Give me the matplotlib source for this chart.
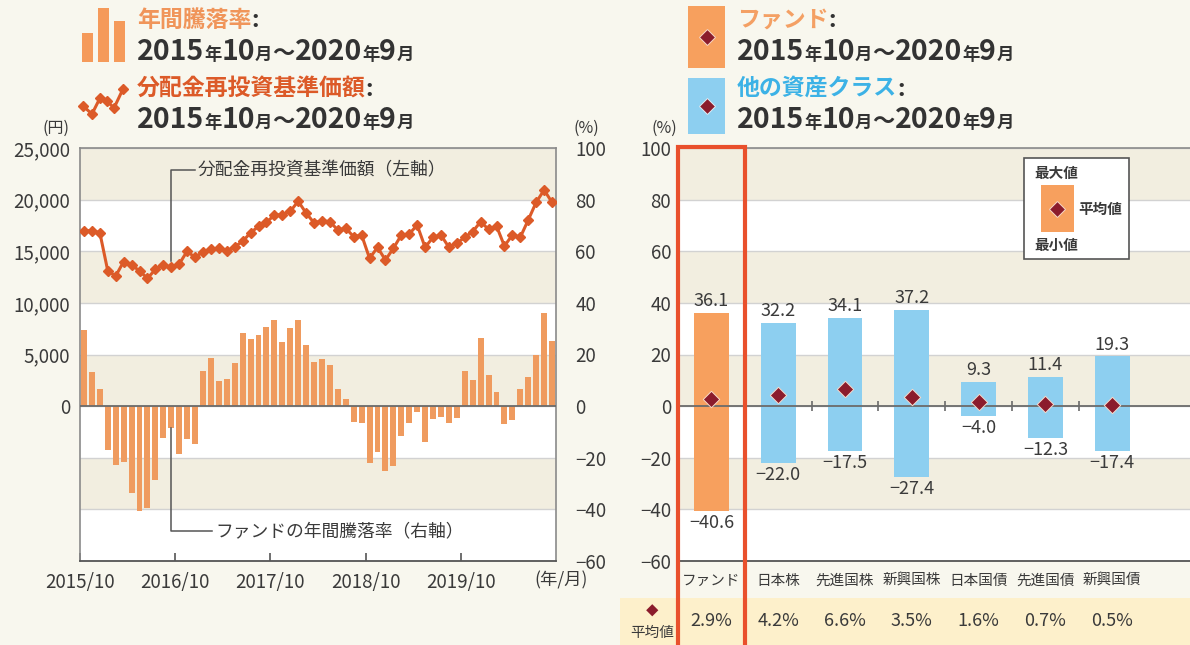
import matplotlib
matplotlib.use('Agg')
import matplotlib.pyplot as plt
from matplotlib.patches import Rectangle
from matplotlib.lines import Line2D
from matplotlib.transforms import blended_transform_factory
import numpy as np

plt.rcParams['font.family'] = ['Noto Sans CJK JP', 'DejaVu Sans']
plt.rcParams['axes.unicode_minus'] = True

# ---------------- data ----------------
x_tick_labels = ["2015/10", "2016/10", "2017/10", "2018/10", "2019/10"]
annual_return = [29.4, 13.3, 6.5, -17.0, -22.8, -21.5, -33.8, -40.6, -39.6, -28.6,
                 -12.5, -8.6, -18.6, -12.9, -14.5, 13.7, 18.5, 9.8, 10.6, 16.9,
                 28.5, 26.1, 27.7, 30.7, 33.3, 24.8, 30.1, 33.3, 23.6, 17.0,
                 18.3, 15.9, 6.5, 2.8, -6.1, -6.7, -22.2, -17.7, -25.3, -23.1,
                 -11.5, -6.7, -2.2, -13.8, -4.8, -4.1, -6.7, -4.5, 13.6, 10.1,
                 26.2, 12.0, 5.3, -7.1, -5.4, 6.5, 11.1, 19.8, 36.1, 25.3]
nav = [16990, 16990, 16800, 13100, 12600, 14000, 13660, 13110, 12370, 13240,
       13660, 13440, 13760, 15000, 14400, 14950, 15220, 15280, 15060, 15440,
       15950, 16800, 17400, 17800, 18500, 18550, 18850, 19850, 18700, 17750,
       17960, 17860, 17060, 17220, 16410, 16570, 14310, 15380, 14150, 15280,
       16570, 16670, 17540, 15380, 16350, 16570, 15380, 15770, 16350, 16900,
       17860, 17120, 17440, 15510, 16570, 16350, 18030, 19740, 20930, 19740]
yen_ticks = [0, 5000, 10000, 15000, 20000, 25000]
yen_labels = ["0", "5,000", "10,000", "15,000", "20,000", "25,000"]
pct_ticks = [-60, -40, -20, 0, 20, 40, 60, 80, 100]

categories = ["ファンド", "日本株", "先進国株", "新興国株", "日本国債", "先進国債", "新興国債"]
max_vals = [36.1, 32.2, 34.1, 37.2, 9.3, 11.4, 19.3]
min_vals = [-40.6, -22.0, -17.5, -27.4, -4.0, -12.3, -17.4]
avg_vals = [2.9, 4.2, 6.6, 3.5, 1.6, 0.7, 0.5]

# ---------------- style ----------------
W, H = 1190, 645
BG = '#f8f7ee'
BEIGE = '#f2eee0'
WHITE = '#ffffff'
GRID = '#d2d2d2'
TXT = '#3a3a3a'
BAR_OR = '#ef9b5f'
FUND_OR = '#f7a05e'
BLUE = '#8dcff0'
LINE_C = '#dc5a28'
DIA = '#8b1c2c'
RED = '#e9502c'
NUM = 13.5

fig = plt.figure(figsize=(W / 100, H / 100), dpi=100)
fig.patch.set_facecolor(BG)


def fx(px):
    return px / W


def fy(py):
    return 1 - py / H


def pminus(s):
    return s.replace('-', '\u2212')


def bands(ax):
    for k, lo in enumerate(range(-60, 100, 20)):
        ax.axhspan(lo, lo + 20, color=(BEIGE if k % 2 == 1 else WHITE), zorder=0, lw=0)
    ax.set_yticks(pct_ticks)
    ax.grid(axis='y', color=GRID, lw=1.0, zorder=1)
    ax.set_axisbelow(True)


# ---------------- left chart ----------------
ax = fig.add_axes([fx(80), fy(561), fx(476), 413 / H])
bands(ax)
xs = np.arange(len(annual_return))
ax.bar(xs, annual_return, width=0.75, color=BAR_OR, zorder=2)
ax.axhline(0, color='#6b6b6b', lw=1.3, zorder=3)
ax.set_ylim(-60, 100)
ax.set_xlim(-0.5, len(annual_return) - 0.5)

ax2 = ax.twinx()
ax2.plot(xs, nav, color=LINE_C, lw=2.2, marker='D', ms=5, mec=LINE_C, zorder=4)
ax2.set_ylim(-15000, 25000)
ax2.yaxis.tick_left()
ax2.set_yticks(yen_ticks)
ax2.set_yticklabels(yen_labels)
ax2.tick_params(axis='y', length=0, pad=7, labelsize=NUM, labelcolor=TXT)
for s in ax2.spines.values():
    s.set_visible(False)

ax.yaxis.tick_right()
ax.set_yticks(pct_ticks)
ax.set_yticklabels([pminus(str(v)) for v in pct_ticks])
ax.tick_params(axis='y', length=0, pad=14, labelsize=NUM, labelcolor=TXT)
ax.set_xticks([-0.5 + 12 * k for k in range(len(x_tick_labels))])
ax.set_xticklabels(x_tick_labels)
ax.tick_params(axis='x', direction='in', length=6, width=1.2, color='#555555',
               pad=8, labelsize=NUM, labelcolor=TXT)
for s in ['left', 'right', 'top']:
    ax.spines[s].set_color('#8a8a8a')
    ax.spines[s].set_linewidth(1.2)
ax.spines['bottom'].set_color('#555555')
ax.spines['bottom'].set_linewidth(1.3)

# annotations (leaders)
fig.canvas.draw()
ann_i = 11
p_line = ax2.transData.transform((ann_i, nav[ann_i]))
p_bar = ax.transData.transform((ann_i, annual_return[ann_i]))
lx = p_line[0]
fig.add_artist(Line2D([lx, lx, 195], [p_line[1] + 6, H - 170, H - 170], transform=None,
                      color='#555555', lw=1.1))
fig.text(fx(198), fy(170), "分配金再投資基準価額（左軸）", fontsize=12.8, color=TXT, va='center', ha='left')
fig.add_artist(Line2D([lx, lx, 212], [p_bar[1], H - 531, H - 531], transform=None,
                      color='#555555', lw=1.1))
fig.text(fx(215), fy(531), "ファンドの年間騰落率（右軸）", fontsize=12.8, color=TXT, va='center', ha='left')

fig.text(fx(56), fy(128), "(円)", fontsize=11.5, color=TXT, ha='center', va='center')
fig.text(fx(586), fy(128), "(%)", fontsize=11.5, color=TXT, ha='center', va='center')
fig.text(fx(561), fy(580), "(年/月)", fontsize=12.5, color=TXT, ha='center', va='center')

# ---------------- right chart ----------------
axr = fig.add_axes([fx(678), fy(561), fx(512), 413 / H])
bands(axr)
cx = np.arange(len(categories))
colors = [FUND_OR] + [BLUE] * (len(categories) - 1)
heights = [mx - mn for mx, mn in zip(max_vals, min_vals)]
axr.bar(cx, heights, bottom=min_vals, width=0.52, color=colors, zorder=2)
axr.axhline(0, color='#6b6b6b', lw=1.3, zorder=3)
axr.vlines(cx[:-1] + 0.5, -1.8, 1.8, color='#6b6b6b', lw=1.2, zorder=3)
axr.scatter(cx, avg_vals, marker='D', s=70, color=DIA, edgecolor='#f6d8c8', lw=0.7, zorder=5)
for i in range(len(categories)):
    axr.annotate(pminus(f"{max_vals[i]:.1f}"), (cx[i], max_vals[i]), xytext=(0, 2),
                 textcoords='offset points', ha='center', va='bottom', fontsize=13, color=TXT, zorder=6)
    axr.annotate(pminus(f"{min_vals[i]:.1f}"), (cx[i], min_vals[i]), xytext=(0, -2),
                 textcoords='offset points', ha='center', va='top', fontsize=13, color=TXT, zorder=6)
axr.set_ylim(-60, 100)
axr.set_xlim(-0.5, -0.5 + 512 / 66.8)
axr.set_yticklabels([pminus(str(v)) for v in pct_ticks])
axr.tick_params(axis='y', length=0, pad=5, labelsize=NUM, labelcolor=TXT)
axr.set_xticks(cx)
axr.set_xticklabels(categories)
axr.tick_params(axis='x', length=0, pad=9, labelsize=10.5, labelcolor=TXT)
axr.spines['right'].set_visible(False)
axr.spines['left'].set_visible(False)
axr.spines['top'].set_color('#8a8a8a')
axr.spines['top'].set_linewidth(1.2)
axr.spines['bottom'].set_color('#555555')
axr.spines['bottom'].set_linewidth(1.3)
fig.text(fx(664), fy(128), "(%)", fontsize=11.5, color=TXT, ha='center', va='center')

# average row table
fig.add_artist(Rectangle((fx(620), 0), fx(570), 47 / H, transform=fig.transFigure,
                         facecolor='#fdf0cb', edgecolor='none', zorder=0))
fig.text(fx(652), fy(612), "◆", fontsize=9, color=DIA, ha='center', va='center')
fig.text(fx(652), fy(633), "平均値", fontsize=10.5, color=TXT, ha='center', va='center')
tb = blended_transform_factory(axr.transData, fig.transFigure)
for i, v in enumerate(avg_vals):
    axr.text(cx[i], fy(621), f"{v:.1f}%", transform=tb, fontsize=13, color=TXT,
             ha='center', va='center', clip_on=False)

# red highlight frame on the fund column
axr.add_patch(Rectangle((-0.5, fy(655)), 1.0, (655 - 147) / H, transform=tb, fill=False,
                        edgecolor=RED, lw=3, clip_on=False, zorder=10))

# legend box inside right chart
fig.add_artist(Rectangle((fx(1024), fy(259)), fx(105), 101 / H, transform=fig.transFigure,
                         facecolor='white', edgecolor='#555555', lw=1.2, zorder=5))
fig.add_artist(Rectangle((fx(1041), fy(232)), fx(33), 47 / H, transform=fig.transFigure,
                         facecolor=FUND_OR, edgecolor='none', zorder=6))
fig.add_artist(Line2D([fx(1057)], [fy(209)], marker='D', ms=8, color=DIA, mec='#f6d8c8', mew=0.7,
                      transform=fig.transFigure, zorder=7))
fig.text(fx(1034), fy(173), "最大値", fontsize=10.5, color=TXT, ha='left', va='center', fontweight='bold', zorder=7)
fig.text(fx(1078), fy(209), "平均値", fontsize=10.5, color=TXT, ha='left', va='center', fontweight='bold', zorder=7)
fig.text(fx(1034), fy(245), "最小値", fontsize=10.5, color=TXT, ha='left', va='center', fontweight='bold', zorder=7)

# ---------------- header legends ----------------
renderer = fig.canvas.get_renderer()


def run_text(x, y, parts):
    cur = x
    for s, size, col in parts:
        t = fig.text(fx(cur), fy(y), s, fontsize=size, color=col, fontweight='bold',
                     ha='left', va='baseline')
        cur += t.get_window_extent(renderer).width


DK = '#333333'
date_parts = [("2015", 20.5, DK), ("年", 12.5, DK), ("10", 20.5, DK), ("月", 12.5, DK), ("～", 16, DK),
              ("2020", 20.5, DK), ("年", 12.5, DK), ("9", 20.5, DK), ("月", 12.5, DK)]
HS = 16.5

# bar icon
for (x0, x1, top) in [(82, 93, 33), (98, 109, 8), (114, 125, 21)]:
    fig.add_artist(Rectangle((fx(x0), fy(62)), fx(x1 - x0), (62 - top) / H,
                             transform=fig.transFigure, facecolor='#f59a5a', edgecolor='none'))
# line icon
ix = [83, 92, 100, 107, 114, 123]
iy = [106, 114, 98, 101, 108, 89]
fig.add_artist(Line2D([fx(v) for v in ix], [fy(v) for v in iy], color=LINE_C, lw=2.2, marker='D',
                      ms=5, transform=fig.transFigure))

run_text(137, 27, [("年間騰落率", HS, '#f0955a'), (":", HS, DK)])
run_text(137, 60, date_parts)
run_text(137, 96, [("分配金再投資基準価額", HS, LINE_C), (":", HS, DK)])
run_text(137, 128, date_parts)

# right header
fig.add_artist(Rectangle((fx(688), fy(68)), fx(37), 62 / H, transform=fig.transFigure,
                         facecolor=FUND_OR, edgecolor='none'))
fig.add_artist(Line2D([fx(706.5)], [fy(37)], marker='D', ms=8, color=DIA, mec='#f6d8c8', mew=0.7,
                      transform=fig.transFigure))
fig.add_artist(Rectangle((fx(688), fy(134)), fx(37), 56 / H, transform=fig.transFigure,
                         facecolor=BLUE, edgecolor='none'))
fig.add_artist(Line2D([fx(706.5)], [fy(106)], marker='D', ms=8, color=DIA, mec='#e0eef6', mew=0.7,
                      transform=fig.transFigure))
run_text(737, 27, [("ファンド", HS, '#f4a064'), (":", HS, DK)])
run_text(737, 60, date_parts)
run_text(737, 96, [("他の資産クラス", HS, '#3cb2e6'), (":", HS, DK)])
run_text(737, 128, date_parts)

fig.savefig('out.png', dpi=100, facecolor=BG)
